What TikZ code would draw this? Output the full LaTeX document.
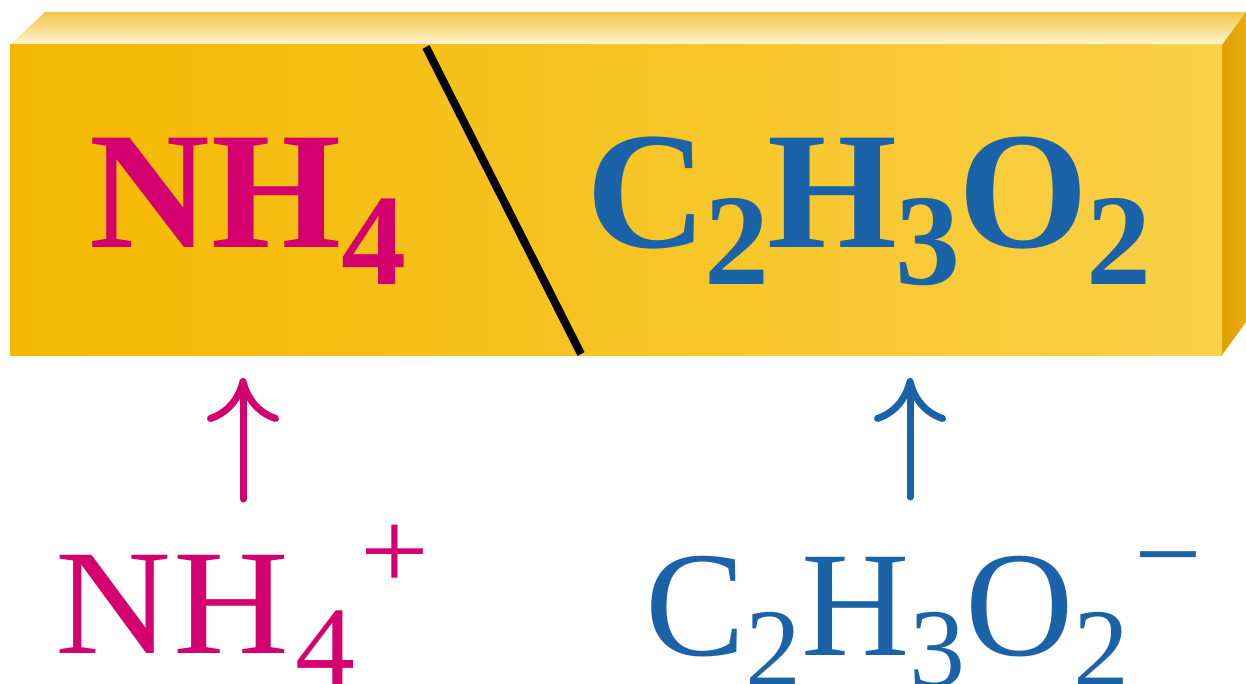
\documentclass[tikz,border=0pt]{standalone}
\usepackage{fontspec}
\setmainfont{Liberation Serif}
\newfontfamily\widefont[FakeStretch=1.07]{Liberation Serif}
\usetikzlibrary{arrows.meta}
\definecolor{ionpink}{HTML}{D5006F}
\definecolor{ionblue}{HTML}{1B63A8}
\definecolor{goldA}{HTML}{F4B800}
\definecolor{goldB}{HTML}{F6C400}
\definecolor{goldC}{HTML}{F9D048}
\definecolor{topA}{HTML}{F2C54A}
\definecolor{topB}{HTML}{FFF6D2}
\definecolor{sideA}{HTML}{DE9E00}
\definecolor{sideB}{HTML}{EAAD12}
\newcommand\boxsub[1]{\lower37pt\hbox{\fontsize{130}{130}\selectfont #1}}
\newcommand\ionsub[1]{\lower31pt\hbox{\fontsize{112}{112}\selectfont #1}}
\newcommand\ionsup[1]{\raise61pt\hbox{\fontsize{120}{120}\selectfont #1}}
\newcommand\ionplus[1]{\raise64pt\hbox{\fontsize{114}{114}\selectfont #1}}
\begin{document}
\begin{tikzpicture}[x=1pt,y=-1pt,
  boxtxt/.style={inner sep=0pt, outer sep=0pt, anchor=base west, font=\fontsize{167}{167}\selectfont\bfseries},
  iontxt/.style={inner sep=0pt, outer sep=0pt, anchor=base west, font=\fontsize{150}{150}\selectfont},
  uparr/.style={line width=7pt, line cap=round, -{Computer Modern Rightarrow[length=44pt,width=72pt]}}]
\useasboundingbox (0,0) rectangle (1246,684);
\fill[white] (0,0) rectangle (1246,684);
% top face
\shade[top color=topA, bottom color=topB] (45,12) -- (1246,12) -- (1222,45) -- (10,45) -- cycle;
% right face
\shade[left color=sideA, right color=sideB] (1222,45) -- (1246,12) -- (1246,322) -- (1222,355) -- cycle;
% front face
\shade[left color=goldA, middle color=goldB, right color=goldC] (10,45) rectangle (1222,355);
% slash
\draw[line width=8pt] (426,47) -- (581,354);
% box texts
\node[boxtxt, text=ionpink] (bnh) at (89,248) {N\kern2pt H\boxsub{4}};
\node[boxtxt, text=ionblue] (bac) at (586,248) {C\kern-2pt\boxsub{2}\kern-2pt H\kern-2pt\boxsub{3}\kern-2pt O\kern-2pt\boxsub{2}};
% ion texts
\node[iontxt, text=ionpink] (inh) at (55,653) {\widefont N\kern3pt H\kern6pt\ionsub{4}\kern5pt\ionplus{+}};
\node[iontxt, text=ionblue] (iac) at (645,655) {C\ionsub{2}H\ionsub{3}O\ionsub{2}\kern5pt\ionsup{−}};
% arrows
\coordinate (p1) at (243,499);
\coordinate (q1) at (243,378);
\coordinate (p2) at (910,497);
\coordinate (q2) at (910,378);
\draw[uparr, ionpink] (p1) -- (q1);
\draw[uparr, ionblue] (p2) -- (q2);
\end{tikzpicture}
\end{document}
